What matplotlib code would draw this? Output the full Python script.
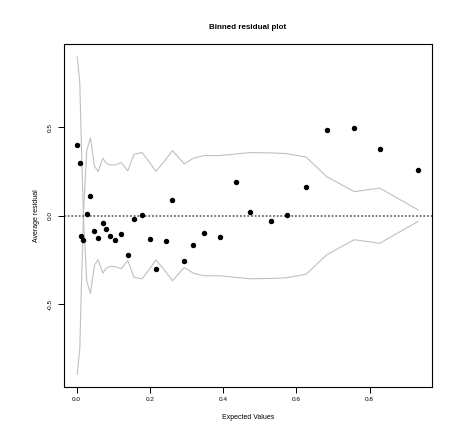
import numpy as np
import matplotlib
matplotlib.use("Agg")
import matplotlib.pyplot as plt

plt.rcParams['font.family'] = ['Liberation Sans', 'DejaVu Sans']

# bin means of expected values
expected = [0.002, 0.009, 0.013, 0.019, 0.028, 0.038, 0.049, 0.059, 0.072, 0.081,
            0.092, 0.104, 0.122, 0.140, 0.157, 0.179, 0.200, 0.217, 0.243, 0.262,
            0.294, 0.319, 0.348, 0.392, 0.435, 0.475, 0.531, 0.574, 0.627, 0.683,
            0.758, 0.828, 0.932]
# average residual per bin
avg_resid = [0.399, 0.299, -0.114, -0.137, 0.010, 0.114, -0.086, -0.127, -0.042, -0.075,
             -0.114, -0.139, -0.103, -0.224, -0.016, 0.006, -0.130, -0.304, -0.143, 0.089,
             -0.254, -0.165, -0.096, -0.120, 0.190, 0.020, -0.029, 0.003, 0.163, 0.487,
             0.497, 0.378, 0.257]
# +/- 2 se band (drawn as is, and mirrored)
band = [0.898, 0.75, 0.43, -0.01, -0.37, -0.44, -0.28, -0.25, -0.325, -0.297,
        -0.287, -0.287, -0.30, -0.254, -0.348, -0.357, -0.30, -0.25, -0.316, -0.368,
        -0.293, -0.325, -0.34, -0.34, -0.349, -0.357, -0.355, -0.351, -0.331, -0.221,
        -0.136, -0.156, -0.033]

xticks = [0.0, 0.2, 0.4, 0.6, 0.8]
yticks = [-0.5, 0.0, 0.5]

x = np.array(expected)
y = np.array(avg_resid)
b = np.array(band)

fig = plt.figure(figsize=(4.69, 4.28), dpi=100)
ax = fig.add_axes([0.1354, 0.0958, 0.7857, 0.8014])

ax.plot(x, b, color='#c0c0c0', lw=0.8)
ax.plot(x, -b, color='#c0c0c0', lw=0.8)
ax.axhline(0, color='#555555', lw=1.1, linestyle=(0, (1.2, 1.2)))
ax.plot(x, y, 'o', color='black', ms=2.9)

ax.set_xlim(-0.0355, 0.9705)
ax.set_ylim(-0.969, 0.971)
ax.set_xticks(xticks)
ax.set_xticklabels(['%.1f' % v for v in xticks])
ax.set_yticks(yticks)
ax.set_yticklabels(['%.1f' % v for v in yticks], rotation=90, va='center')

ax.tick_params(direction='out', length=4.5, width=0.7, labelsize=4.6, pad=3)
for s in ax.spines.values():
    s.set_linewidth(0.8)

ax.set_title('Binned residual plot', fontsize=5.8, fontweight='bold', pad=11)
ax.set_xlabel('Expected Values', fontsize=5, labelpad=8)
ax.set_ylabel('Average residual', fontsize=5, labelpad=6)

fig.savefig('out.png', dpi=100)
